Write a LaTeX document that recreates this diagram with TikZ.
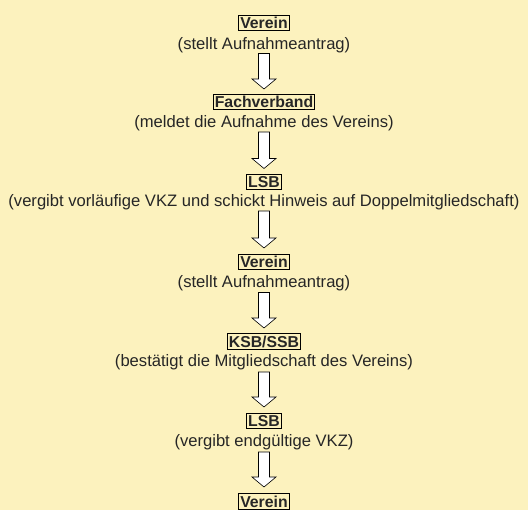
\documentclass[tikz,border=0pt]{standalone}
\usepackage{fontspec}
\setmainfont{Liberation Sans}
\definecolor{bg}{HTML}{FCF2BE}
\begin{document}
\begin{tikzpicture}[x=1pt,y=-1pt,
  title/.style={draw=black,line width=0.9pt,fill=bg,inner xsep=1.5pt,inner ysep=2pt,font=\fontsize{15.8}{17}\selectfont\bfseries,text=black!85},
  desc/.style={inner sep=0pt,font=\fontsize{16.6}{18}\selectfont,text=black!85},
  blockarrow/.style={draw=black,line width=0.6pt,fill=white}]
\fill[bg] (0,0) rectangle (528,510);
\useasboundingbox (0,0) rectangle (528,510);
\newcommand{\barrow}[2]{%
  \draw[blockarrow] (258.5,#1) -- (269.5,#1) -- (269.5,#2-10) -- (276,#2-10) -- (264,#2) -- (252,#2-10) -- (258.5,#2-10) -- cycle;}
\node[title] (v1) at (264,23) {Verein};
\node[desc] (t1) at (264,45) {(stellt Aufnahmeantrag)};
\barrow{53.5}{89}
\node[title] (f) at (264,102) {Fachverband};
\node[desc] (t2) at (264,123) {(meldet die Aufnahme des Vereins)};
\barrow{132}{168.5}
\node[title] (l1) at (264,182) {LSB};
\node[desc] (t3) at (264,202) {(vergibt vorläufige VKZ und schickt Hinweis auf Doppelmitgliedschaft)};
\barrow{211}{248}
\node[title] (v2) at (264,262) {Verein};
\node[desc] (t4) at (264,283) {(stellt Aufnahmeantrag)};
\barrow{292.5}{328}
\node[title] (k) at (264,341.5) {KSB/SSB};
\node[desc] (t5) at (264,362) {(bestätigt die Mitgliedschaft des Vereins)};
\barrow{372}{407}
\node[title] (l2) at (264,421) {LSB};
\node[desc] (t6) at (264,442) {(vergibt endgültige VKZ)};
\barrow{452}{487}
\node[title] (v3) at (264,501.5) {Verein};
\end{tikzpicture}
\end{document}
